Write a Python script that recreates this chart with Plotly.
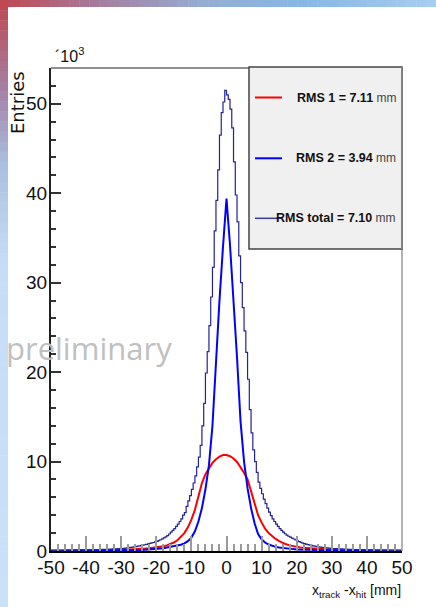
import plotly.graph_objects as go
import numpy as np

# ---------------- data (values in units of 10^3 entries) ----------------
x_points = list(range(-50, 51))

rms1_red = [0.03, 0.03, 0.03, 0.035, 0.035, 0.04, 0.04, 0.045, 0.05, 0.05,
            0.055, 0.06, 0.065, 0.07, 0.075, 0.08, 0.085, 0.09, 0.1, 0.11,
            0.12, 0.13, 0.15, 0.17, 0.19, 0.21, 0.24, 0.27, 0.31, 0.35,
            0.40, 0.46, 0.53, 0.63, 0.76, 0.95, 1.2, 1.55, 2.0, 2.65,
            3.5, 4.6, 6.0, 7.6, 8.6, 9.3, 9.85, 10.25, 10.55, 10.72,
            10.72,
            10.6, 10.35, 9.95, 9.4, 8.75, 8.0, 6.6, 5.1, 4.0, 3.2,
            2.5, 2.0, 1.65, 1.35, 1.1, 0.9, 0.75, 0.63, 0.54, 0.47,
            0.4, 0.36, 0.32, 0.29, 0.26, 0.23, 0.21, 0.19, 0.17, 0.15,
            0.14, 0.13, 0.12, 0.11, 0.1, 0.09, 0.085, 0.08, 0.075, 0.07,
            0.065, 0.06, 0.055, 0.05, 0.048, 0.045, 0.042, 0.04, 0.038, 0.035]

rms2_blue = [0.02, 0.02, 0.02, 0.02, 0.025, 0.025, 0.025, 0.03, 0.03, 0.03,
             0.03, 0.035, 0.035, 0.04, 0.04, 0.045, 0.05, 0.05, 0.055, 0.06,
             0.065, 0.07, 0.075, 0.08, 0.09, 0.10, 0.12, 0.14, 0.17, 0.21,
             0.25, 0.28, 0.32, 0.38, 0.45, 0.52, 0.60, 0.70, 0.85, 1.10,
             1.50, 2.20, 3.30, 4.80, 6.90, 9.60, 14.0, 21.5, 28.0, 34.0,
             39.4,
             34.2, 28.2, 21.6, 14.5, 10.0, 7.0, 4.8, 3.1, 1.9, 1.3,
             0.95, 0.72, 0.56, 0.46, 0.38, 0.32, 0.28, 0.24, 0.21, 0.18,
             0.16, 0.14, 0.12, 0.11, 0.10, 0.09, 0.08, 0.075, 0.07, 0.065,
             0.06, 0.055, 0.05, 0.05, 0.045, 0.04, 0.04, 0.035, 0.035, 0.03,
             0.03, 0.03, 0.03, 0.025, 0.025, 0.025, 0.02, 0.02, 0.02, 0.02]

# total histogram: 200 bins of 0.5 mm between -50 and 50
total_range = (-50.0, 50.0)
total_counts = [
    # -50.0 ... -30.0
    0.065, 0.068, 0.07, 0.072, 0.075, 0.077, 0.08, 0.082, 0.085, 0.088,
    0.091, 0.094, 0.097, 0.1, 0.104, 0.107, 0.11, 0.115, 0.12, 0.125,
    0.13, 0.135, 0.14, 0.145, 0.15, 0.155, 0.16, 0.165, 0.17, 0.18,
    0.185, 0.19, 0.2, 0.21, 0.22, 0.23, 0.24, 0.25, 0.26, 0.27,
    # -30.0 ... -20.0
    0.28, 0.3, 0.32, 0.34, 0.37, 0.4, 0.43, 0.46, 0.5, 0.54,
    0.58, 0.62, 0.66, 0.7, 0.75, 0.8, 0.85, 0.9, 0.95, 1.01,
    # -20.0 ... -10.0
    1.08, 1.17, 1.26, 1.36, 1.46, 1.58, 1.72, 1.9, 2.1, 2.3,
    2.5, 2.75, 3.0, 3.3, 3.6, 4.0, 4.3, 5.0, 5.6, 6.2,
    # -10.0 ... 0.0
    6.9, 7.6, 8.4, 9.4, 10.5, 11.8, 14.0, 16.5, 19.9, 22.3,
    25.2, 28.4, 31.7, 35.8, 39.2, 42.6, 46.5, 49.0, 50.2, 51.5,
    # 0.0 ... 10.0
    51.0, 50.5, 49.4, 47.3, 43.5, 39.8, 36.8, 33.0, 30.0, 27.2,
    24.6, 22.2, 19.2, 15.8, 13.2, 11.3, 10.0, 8.8, 7.7, 7.0,
    # 10.0 ... 20.0
    6.4, 5.8, 5.3, 4.8, 4.35, 3.95, 3.6, 3.3, 3.0, 2.75,
    2.5, 2.3, 2.1, 1.93, 1.78, 1.65, 1.55, 1.44, 1.34, 1.24,
    # 20.0 ... 30.0
    1.14, 1.05, 0.96, 0.88, 0.82, 0.76, 0.71, 0.66, 0.62, 0.58,
    0.54, 0.5, 0.47, 0.44, 0.41, 0.38, 0.36, 0.34, 0.32, 0.3,
    # 30.0 ... 50.0
    0.28, 0.27, 0.26, 0.25, 0.24, 0.23, 0.22, 0.21, 0.2, 0.19,
    0.185, 0.18, 0.17, 0.165, 0.16, 0.155, 0.15, 0.145, 0.14, 0.135,
    0.13, 0.125, 0.12, 0.115, 0.11, 0.107, 0.104, 0.1, 0.097, 0.094,
    0.091, 0.088, 0.085, 0.082, 0.08, 0.077, 0.075, 0.072, 0.07, 0.067,
]

legend_labels = ["RMS 1 = 7.11", "RMS 2 = 3.94", "RMS total = 7.10"]
legend_unit = "mm"
x_ticks = [-50, -40, -30, -20, -10, 0, 10, 20, 30, 40, 50]
y_ticks = [0, 10, 20, 30, 40, 50]

# ---------------- layout geometry ----------------
W, H = 436, 607
L, R, T, B = 51, 402, 68, 551   # plot area in pixels


def px(xp):
    return (xp - L) / (R - L)


def py(yp):
    return (B - yp) / (B - T)


SANS = "Liberation Sans, Arial, Helvetica"

fig = go.Figure()

fig.add_trace(go.Scatter(x=x_points, y=rms1_red, mode="lines",
                         line=dict(color="#ff0000", width=2), hoverinfo="skip"))
fig.add_trace(go.Scatter(x=x_points, y=rms2_blue, mode="lines",
                         line=dict(color="#0000ff", width=2), hoverinfo="skip"))
step_x = np.linspace(total_range[0], total_range[1], len(total_counts) + 1)
step_y = list(total_counts) + [total_counts[-1]]
fig.add_trace(go.Scatter(x=step_x, y=step_y, mode="lines", line_shape="hv",
                         line=dict(color="#22229a", width=1.2), hoverinfo="skip"))

shapes = []
# background gradient strips (slide decoration)
def lerp(c1, c2, t):
    return "rgb(%d,%d,%d)" % tuple(int(round(a + (b - a) * t)) for a, b in zip(c1, c2))

top_stops = [(0, (192, 70, 78)), (100, (165, 125, 160)), (200, (150, 172, 210)),
             (300, (134, 183, 227)), (436, (168, 206, 240))]
n = 44
for i in range(n):
    x0 = W * i / n
    x1 = W * (i + 1) / n
    xm = (x0 + x1) / 2
    for (a, ca), (b, cb) in zip(top_stops[:-1], top_stops[1:]):
        if a <= xm <= b:
            col = lerp(ca, cb, (xm - a) / (b - a))
    shapes.append(dict(type="rect", xref="paper", yref="paper",
                       x0=px(x0), x1=px(x1 + 0.5), y0=py(7), y1=py(0),
                       fillcolor=col, line=dict(width=0), layer="below"))
left_stops = [(0, (192, 70, 78)), (90, (165, 128, 165)), (160, (168, 190, 222)),
              (260, (197, 221, 245)), (607, (201, 226, 248))]
n = 60
for i in range(n):
    y0 = H * i / n
    y1 = H * (i + 1) / n
    ym = (y0 + y1) / 2
    for (a, ca), (b, cb) in zip(left_stops[:-1], left_stops[1:]):
        if a <= ym <= b:
            col = lerp(ca, cb, (ym - a) / (b - a))
    shapes.append(dict(type="rect", xref="paper", yref="paper",
                       x0=px(0), x1=px(8), y0=py(y1 + 0.5), y1=py(y0),
                       fillcolor=col, line=dict(width=0), layer="below"))

# frame: top and right lines
shapes.append(dict(type="line", xref="paper", yref="paper", x0=0, x1=1, y0=1, y1=1,
                   line=dict(color="#222222", width=1.2)))
shapes.append(dict(type="line", xref="paper", yref="paper", x0=1, x1=1, y0=0, y1=1,
                   line=dict(color="#999999", width=1.5)))
# legend box
shapes.append(dict(type="rect", xref="paper", yref="paper",
                   x0=px(249), x1=px(402), y0=py(249), y1=py(67),
                   fillcolor="#f0f0f0", line=dict(color="#444444", width=1.5)))
shapes.append(dict(type="line", xref="paper", yref="paper", x0=px(402), x1=px(402),
                   y0=py(249), y1=py(67), line=dict(color="#888888", width=1.5)))
legend_colors = ["#ff0000", "#0000ff", "#3a3aa6"]
legend_y = [97.5, 158.3, 218.3]
for c, yy in zip(legend_colors, legend_y):
    shapes.append(dict(type="line", xref="paper", yref="paper",
                       x0=px(255), x1=px(282), y0=py(yy), y1=py(yy),
                       line=dict(color=c, width=2 if c != "#3a3aa6" else 1.5)))

annotations = []
for lab, yy in zip(legend_labels, legend_y):
    annotations.append(dict(xref="paper", yref="paper", x=px(398), y=py(yy),
                            xanchor="right", yanchor="middle", showarrow=False,
                            text="<b>%s</b><span style='font-size:12px;color:#444'> %s</span>" % (lab, legend_unit),
                            font=dict(family=SANS, size=12.5, color="#111111")))
# exponent label
annotations.append(dict(xref="paper", yref="paper", x=px(53), y=py(55),
                        xanchor="left", yanchor="middle", showarrow=False,
                        text="´10<sup>3</sup>",
                        font=dict(family=SANS, size=16, color="#111111")))
# y title
annotations.append(dict(xref="paper", yref="paper", x=px(17), y=py(103),
                        xanchor="center", yanchor="middle", showarrow=False,
                        text="Entries", textangle=-90,
                        font=dict(family="DejaVu Sans, Liberation Sans", size=18, color="#111111")))
# x title
annotations.append(dict(xref="paper", yref="paper", x=px(403), y=py(591),
                        xanchor="right", yanchor="middle", showarrow=False,
                        text="x<sub>track</sub> -x<sub>hit</sub> [mm]",
                        font=dict(family=SANS, size=14, color="#111111")))
# watermark
annotations.append(dict(xref="paper", yref="paper", x=px(4), y=py(348),
                        xanchor="left", yanchor="middle", showarrow=False,
                        text="preliminary",
                        font=dict(family="Open Sans, Noto Sans", size=31, color="#c0c0c0")))

fig.update_layout(
    width=W, height=H,
    margin=dict(l=L, r=W - R, t=T, b=H - B, pad=0),
    paper_bgcolor="white", plot_bgcolor="white",
    showlegend=False,
    shapes=shapes, annotations=annotations,
    xaxis=dict(range=[-50, 50], tickvals=x_ticks, ticktext=[str(v) for v in x_ticks],
               ticks="inside", ticklen=15, tickwidth=1.5, tickcolor="#9a9a9a",
               minor=dict(ticks="inside", dtick=2, ticklen=7, tickwidth=1.5, tickcolor="#9a9a9a"),
               showline=True, linecolor="#000000", linewidth=2,
               showgrid=False, zeroline=False, ticklabelstandoff=-2,
               tickfont=dict(family=SANS, size=19, color="#111111")),
    yaxis=dict(range=[0, 54], tickvals=y_ticks, ticktext=[str(v) for v in y_ticks],
               ticks="inside", ticklen=10, tickwidth=1.5, tickcolor="#333333",
               minor=dict(ticks="inside", dtick=2, ticklen=5, tickwidth=1.5, tickcolor="#333333"),
               showline=True, linecolor="#222222", linewidth=2,
               showgrid=False, zeroline=False, ticklabelstandoff=-2,
               tickfont=dict(family=SANS, size=19, color="#111111")),
)

fig.write_html("out.html")
